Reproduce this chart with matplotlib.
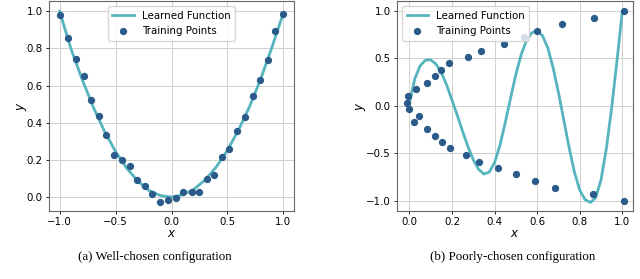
import numpy as np
import matplotlib.pyplot as plt

# (a) well-chosen : points d'entrainement + fonction apprise
x_train_a = [-0.994, -0.923, -0.857, -0.786, -0.720, -0.649, -0.583, -0.512, -0.446, -0.375,
             -0.310, -0.238, -0.173, -0.101, -0.030, 0.036, 0.107, 0.179, 0.244, 0.315,
             0.381, 0.452, 0.518, 0.589, 0.655, 0.726, 0.792, 0.863, 0.929, 1.000]
y_train_a = [0.979, 0.857, 0.743, 0.654, 0.521, 0.436, 0.336, 0.229, 0.200, 0.168,
             0.093, 0.057, 0.018, -0.025, -0.014, -0.004, 0.025, 0.025, 0.025, 0.096,
             0.121, 0.218, 0.257, 0.354, 0.429, 0.546, 0.632, 0.736, 0.893, 0.986]
x_fit_a = [-1.0, -0.9, -0.8, -0.7, -0.6, -0.5, -0.4, -0.3, -0.2, -0.1, 0.0,
           0.1, 0.2, 0.3, 0.4, 0.5, 0.6, 0.7, 0.8, 0.9, 1.0]
y_fit_a = [1.0, 0.80, 0.635, 0.485, 0.355, 0.245, 0.155, 0.085, 0.035, 0.008, 0.0,
           0.012, 0.042, 0.092, 0.162, 0.252, 0.362, 0.49, 0.64, 0.81, 0.99]

# (b) poorly-chosen
x_train_b = [-0.008, -0.009, -0.003, 0.031, 0.081, 0.119, 0.147, 0.188, 0.274, 0.335,
             0.444, 0.538, 0.601, 0.717, 0.867, 1.01,
             0.022, 0.047, 0.081, 0.122, 0.153, 0.191, 0.266, 0.326, 0.416, 0.501,
             0.592, 0.685, 0.864, 1.01]
y_train_b = [0.105, 0.032, -0.035, 0.172, 0.239, 0.309, 0.379, 0.449, 0.519, 0.582,
             0.653, 0.723, 0.793, 0.863, 0.926, 1.0,
             -0.175, -0.105, -0.246, -0.316, -0.379, -0.449, -0.519, -0.589, -0.660, -0.723,
             -0.793, -0.863, -0.933, -1.0]
x_fit_b = [0.0, 0.025, 0.05, 0.075, 0.1, 0.125, 0.15, 0.175, 0.2, 0.225, 0.25, 0.275,
           0.3, 0.325, 0.35, 0.375, 0.4, 0.425, 0.45, 0.475, 0.5, 0.525, 0.55, 0.575,
           0.6, 0.625, 0.65, 0.675, 0.7, 0.725, 0.75, 0.775, 0.8, 0.825, 0.85, 0.875,
           0.9, 0.925, 0.95, 0.975, 1.0]
y_fit_b = [0.02, 0.28, 0.42, 0.48, 0.485, 0.44, 0.35, 0.22, 0.06, -0.10, -0.27, -0.43,
           -0.57, -0.67, -0.72, -0.70, -0.60, -0.42, -0.18, 0.08, 0.33, 0.54, 0.69, 0.77,
           0.79, 0.74, 0.61, 0.40, 0.14, -0.15, -0.44, -0.70, -0.89, -0.99, -1.02, -0.97,
           -0.78, -0.45, -0.02, 0.48, 1.00]

line_col = '#56b4bf'
pt_col = '#2a5b8a'

fig = plt.figure(figsize=(6.4, 2.79), dpi=100)
ax1 = fig.add_axes([49/640, 68/279, 245/640, 210/279])
ax2 = fig.add_axes([397/640, 68/279, 236/640, 210/279])

for ax, xf, yf, xt, yt, lp in [(ax1, x_fit_a, y_fit_a, x_train_a, y_train_a, -2.0),
                               (ax2, x_fit_b, y_fit_b, x_train_b, y_train_b, -1.5)]:
    ax.plot(xf, yf, color=line_col, lw=2.0, label='Learned Function', zorder=2)
    ax.scatter(xt, yt, s=18, color=pt_col, label='Training Points', zorder=3)
    ax.grid(True, color='#d0d0d0', lw=0.7)
    ax.set_axisbelow(True)
    ax.tick_params(labelsize=7.4, length=2.5, width=0.6, pad=2)
    ax.set_xlabel('$x$', fontsize=8.5, labelpad=-0.5)
    ax.set_ylabel('$y$', fontsize=8.5, labelpad=lp)
    for s in ax.spines.values():
        s.set_color('#666666')
        s.set_linewidth(0.8)

ax1.set_xlim(-1.095, 1.095)
ax1.set_ylim(-0.075, 1.055)
ax1.set_xticks([-1.0, -0.5, 0.0, 0.5, 1.0])
ax1.legend(loc='upper center', fontsize=7.4, handlelength=2.05,
           borderpad=0.45, labelspacing=0.5, framealpha=0.8)

ax2.set_xlim(-0.058, 1.05)
ax2.set_ylim(-1.11, 1.105)
ax2.set_xticks([0.0, 0.2, 0.4, 0.6, 0.8, 1.0])
ax2.set_yticks([-1.0, -0.5, 0.0, 0.5, 1.0])
ax2.legend(loc='upper left', fontsize=7.4, handlelength=2.05,
           borderpad=0.45, labelspacing=0.5, framealpha=0.8)

fig.text(155/640, 1 - 257/279, '(a) Well-chosen configuration', ha='center', va='center',
         fontsize=9.3, family='Liberation Serif')
fig.text(513/640, 1 - 257/279, '(b) Poorly-chosen configuration', ha='center', va='center',
         fontsize=9.3, family='Liberation Serif')

fig.savefig('out.png', dpi=100)
